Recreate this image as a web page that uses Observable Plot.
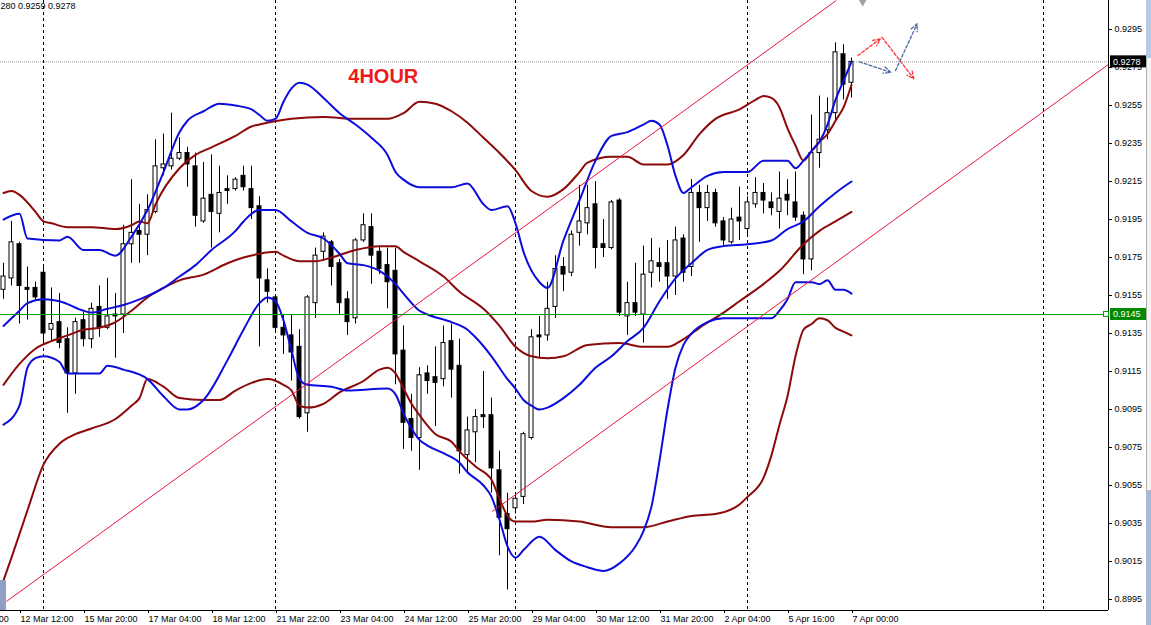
<!DOCTYPE html>
<html><head><meta charset="utf-8">
<script src="https://cdn.jsdelivr.net/npm/d3@7"></script>
<script src="https://cdn.jsdelivr.net/npm/@observablehq/plot@0.6"></script>
<style>
html,body{margin:0;padding:0;background:#fff;overflow:hidden;}
#chart{position:relative;width:1151px;height:625px;}
</style></head><body><div id="chart"></div>
<script>
// ---- candle data (4H bars, index 0..106) ----
const opens  = [.9158,.9164,.9182,.9159,.9159,.9167,.9137,.9141,.9132,.9114,.9142,.9132,.9149,.9138,.9145,.9145,.9182,.9189,.9187,.9199,.9222,.9223,.9227,.9230,.9223,.9194,.9208,.9198,.9211,.9211,.9218,.9211,.9202,.9163,.9154,.9138,.9134,.9128,.9093,.9151,.9178,.9183,.9172,.9153,.9143,.9184,.9191,.9178,.9171,.9168,.9126,.9090,.9080,.9114,.9112,.9111,.9131,.9118,.9071,.9083,.9092,.9092,.9063,.9040,.9043,.9049,.9080,.9134,.9134,.9149,.9170,.9167,.9188,.9193,.9203,.9182,.9180,.9205,.9144,.9151,.9145,.9167,.9172,.9172,.9165,.9185,.9170,.9209,.9201,.9209,.9194,.9183,.9196,.9190,.9203,.9209,.9204,.9199,.9208,.9204,.9197,.9174,.9230,.9242,.9251,.9282,.9267];
const highs  = [.9172,.9194,.9183,.9170,.9162,.9170,.9159,.9156,.9138,.9143,.9146,.9151,.9160,.9164,.9156,.9192,.9216,.9203,.9208,.9237,.9240,.9251,.9238,.9233,.9230,.9225,.9229,.9223,.9218,.9217,.9223,.9223,.9207,.9169,.9155,.9145,.9145,.9137,.9155,.9180,.9188,.9184,.9174,.9157,.9185,.9198,.9198,.9181,.9180,.9180,.9139,.9103,.9117,.9118,.9128,.9139,.9140,.9132,.9091,.9095,.9115,.9101,.9073,.9051,.9051,.9083,.9137,.9144,.9162,.9176,.9175,.9189,.9213,.9213,.9215,.9195,.9205,.9206,.9162,.9172,.9181,.9185,.9180,.9184,.9191,.9187,.9216,.9213,.9213,.9211,.9196,.9201,.9212,.9207,.9217,.9214,.9209,.9220,.9216,.9220,.9199,.9250,.9260,.9259,.9288,.9287,.9280];
const lows   = [.9153,.9160,.9140,.9142,.9152,.9130,.9131,.9127,.9093,.9103,.9128,.9127,.9133,.9137,.9122,.9135,.9172,.9172,.9176,.9198,.9218,.9221,.9226,.9212,.9191,.9193,.9180,.9188,.9203,.9210,.9210,.9195,.9128,.9151,.9136,.9124,.9110,.9090,.9083,.9143,.9173,.9160,.9145,.9134,.9140,.9183,.9161,.9166,.9148,.9108,.9074,.9073,.9063,.9103,.9086,.9107,.9101,.9061,.9061,.9067,.9085,.9051,.9018,.9000,.9040,.9045,.9079,.9122,.9131,.9143,.9157,.9165,.9181,.9187,.9169,.9175,.9179,.9144,.9134,.9144,.9130,.9159,.9162,.9153,.9155,.9162,.9165,.9183,.9194,.9191,.9181,.9182,.9184,.9187,.9201,.9198,.9197,.9190,.9197,.9194,.9166,.9168,.9222,.9237,.9247,.9258,.9259];
const closes = [.9165,.9183,.9160,.9158,.9154,.9135,.9140,.9130,.9114,.9141,.9132,.9148,.9138,.9144,.9144,.9182,.9188,.9187,.9200,.9223,.9224,.9227,.9230,.9224,.9197,.9206,.9199,.9209,.9210,.9216,.9212,.9201,.9164,.9157,.9138,.9134,.9125,.9091,.9154,.9176,.9186,.9170,.9151,.9141,.9184,.9192,.9176,.9169,.9162,.9124,.9088,.9080,.9113,.9110,.9109,.9130,.9116,.9073,.9084,.9091,.9091,.9064,.9038,.9032,.9048,.9082,.9133,.9133,.9148,.9169,.9166,.9187,.9194,.9201,.9180,.9180,.9204,.9146,.9151,.9146,.9166,.9173,.9170,.9165,.9184,.9167,.9209,.9201,.9209,.9193,.9184,.9195,.9194,.9204,.9209,.9205,.9201,.9206,.9205,.9196,.9174,.9230,.9237,.9251,.9283,.9266,.9278];

// ---- indicator lines: [bar index, price] ----
const blueUpper = [[0,.9195],[2,.9198],[3,.9185],[7,.9184],[8,.9186],[10,.9179],[12,.9179],[14,.9176],[16,.9186],[18,.9200],[20,.9220],[22,.9241],[23,.9247],[25,.9252],[27,.9256],[29,.9255],[31,.9253],[32,.9250],[33,.9247],[34,.9248],[35,.9257],[36,.9264],[37,.9267],[38,.9266],[40,.9259],[42,.9251],[44,.9245],[46,.9238],[48,.9229],[49,.9220],[50,.9216],[52,.9212],[56,.9212],[58,.9214],[60,.9203],[61,.9200],[63,.9202],[64,.9193],[65,.9178],[67,.9162],[68,.9159],[70,.9184],[72,.9205],[74,.9226],[76,.9239],[78,.9241],[80,.9245],[81,.9247],[82,.9245],[83,.9234],[84,.9218],[85,.9209],[86,.9212],[88,.9218],[90,.9220],[93,.9220],[95,.9226],[98,.9226],[99,.9222],[100,.9226],[101,.9231],[102,.9236],[103,.9245],[104,.9258],[105,.9268],[106,.9278]];
const blueMid = [[0,.9139],[2,.9147],[3,.9151],[5,.9153],[7,.9152],[10,.9147],[11,.9146],[13,.9148],[15,.9150],[17,.9153],[20,.9159],[22,.9165],[24,.9171],[26,.9179],[29,.9189],[30,.9194],[32,.9200],[34,.9200],[36,.9194],[38,.9188],[40,.9185],[42,.9177],[43,.9172],[45,.9171],[47,.9168],[48,.9165],[49,.9161],[50,.9156],[52,.9147],[53,.9145],[56,.9141],[58,.9137],[59,.9133],[61,.9123],[63,.9111],[64,.9106],[65,.9100],[66,.9097],[67,.9095],[68,.9096],[70,.9101],[72,.9108],[74,.9117],[76,.9123],[78,.9131],[80,.9138],[82,.9152],[84,.9164],[86,.9172],[88,.9179],[90,.9181],[93,.9182],[96,.9184],[98,.9190],[100,.9194],[102,.9202],[104,.9209],[106,.9215]];
const blueLower = [[0,.9087],[2,.9097],[3,.9117],[4,.9122],[5,.9123],[7,.9120],[8,.9114],[12,.9114],[13,.9118],[15,.9116],[18,.9111],[20,.9102],[22,.9095],[23,.9095],[25,.9100],[28,.9121],[30,.9137],[32,.9151],[33,.9154],[34,.9152],[35,.9142],[36,.9126],[37,.9111],[38,.9108],[41,.9107],[43,.9105],[48,.9106],[49,.9103],[50,.9093],[51,.9085],[52,.9079],[53,.9076],[55,.9072],[57,.9067],[58,.9062],[60,.9055],[61,.9049],[62,.9037],[63,.9023],[64,.9017],[65,.9021],[67,.9028],[69,.9021],[71,.9015],[73,.9012],[75,.9010],[77,.9014],[79,.9023],[80,.9031],[81,.9044],[82,.9068],[83,.9095],[84,.9117],[85,.9129],[86,.9135],[88,.9141],[90,.9143],[96,.9143],[97,.9147],[98,.9153],[99,.9162],[101,.9162],[102,.9161],[103,.9163],[104,.9158],[105,.9158],[106,.9156]];
const maroonUpper = [[0,.9209],[1,.9210],[2,.9208],[4,.9199],[5,.9194],[6,.9193],[8,.9191],[11,.9191],[14,.9190],[16,.9192],[17,.9194],[18,.9193],[19,.9203],[22,.9222],[24,.9229],[26,.9233],[29,.9239],[31,.9244],[32,.9245],[36,.9248],[40,.9249],[44,.9248],[48,.9248],[50,.9251],[52,.9257],[54,.9256],[56,.9252],[58,.9246],[60,.9238],[62,.9230],[64,.9221],[66,.9210],[68,.9207],[70,.9211],[72,.9220],[73,.9225],[76,.9228],[78,.9228],[80,.9224],[83,.9224],[85,.9229],[87,.9240],[89,.9248],[92,.9253],[94,.9258],[95,.9260],[96,.9259],[97,.9254],[98,.9243],[99,.9234],[100,.9226],[101,.9231],[102,.9236],[103,.9240],[104,.9247],[105,.9254],[106,.9266]];
const maroonMid = [[0,.9108],[2,.9119],[4,.9127],[6,.9131],[8,.9134],[10,.9137],[12,.9138],[14,.9141],[16,.9147],[18,.9154],[20,.9159],[22,.9163],[25,.9166],[28,.9172],[30,.9175],[32,.9177],[34,.9178],[35,.9176],[37,.9173],[39,.9173],[41,.9175],[44,.9179],[47,.9181],[49,.9181],[50,.9178],[52,.9173],[55,.9165],[57,.9157],[60,.9148],[62,.9139],[64,.9128],[66,.9123],[68,.9122],[70,.9123],[73,.9129],[77,.9130],[80,.9128],[83,.9128],[85,.9132],[87,.9138],[90,.9146],[92,.9152],[95,.9161],[97,.9168],[100,.9182],[102,.9189],[104,.9194],[106,.9199]];
const maroonLower = [[0,.9005],[1,.9017],[3,.9042],[5,.9066],[7,.9077],[9,.9082],[11,.9085],[14,.9090],[16,.9097],[17,.9101],[18,.9111],[20,.9107],[22,.9101],[25,.9100],[27,.9100],[29,.9105],[31,.9109],[33,.9111],[35,.9108],[36,.9105],[37,.9097],[38,.9096],[40,.9098],[42,.9104],[45,.9110],[47,.9116],[48,.9117],[49,.9114],[50,.9106],[51,.9098],[52,.9092],[54,.9082],[56,.9078],[57,.9073],[59,.9065],[61,.9058],[62,.9048],[63,.9039],[64,.9036],[66,.9036],[68,.9037],[72,.9036],[76,.9033],[80,.9033],[83,.9036],[86,.9039],[89,.9040],[92,.9045],[93,.9049],[95,.9059],[96,.9071],[97,.9087],[98,.9102],[99,.9123],[100,.9137],[101,.9140],[102,.9143],[103,.9142],[104,.9138],[105,.9136],[106,.9134]];

// ---- channel lines, levels, separators, annotations ----
const channelLines = [
  {x1: 0.375, y1: .8994, x2: 104.1, y2: .93103},
  {x1: 61.1, y1: .90413, x2: 138.1, y2: .92766}
];
const greenLevel = [0.9145];
const bidLevel = [0.9278];
const separatorBars = [5, 34, 64, 93, 130];
const redArrows = [
  {x1: 106.8, y1: .92813, x2: 109.6, y2: .92901},
  {x1: 109.8, y1: .92910, x2: 113.8, y2: .92691}
];
const blueArrows = [
  {x1: 107.0, y1: .92780, x2: 110.9, y2: .92725},
  {x1: 111.5, y1: .92734, x2: 114.2, y2: .92980}
];
const titleLabel = [{x: 43.1, y: .92703, text: "4HOUR"}];
const headerText = ["280 0.9259 0.9278"];
const shiftMarker = [107.4];
const anchorBox = [{x2: 0.375, y1: .9005}];

const yTicks = [0.9295,0.9275,0.9255,0.9235,0.9215,0.9195,0.9175,0.9155,0.9135,0.9115,0.9095,0.9075,0.9055,0.9035,0.9015,0.8995];
const xTickBars = [-6,2,10,18,26,34,42,50,58,66,74,82,90,98,106];
const xTickLabels = ["11 Mar 04:00","12 Mar 12:00","15 Mar 20:00","17 Mar 04:00","18 Mar 12:00","21 Mar 22:00","23 Mar 04:00","24 Mar 12:00","25 Mar 20:00","29 Mar 04:00","30 Mar 12:00","31 Mar 20:00","2 Apr 04:00","5 Apr 16:00","7 Apr 00:00"];

const X0 = -0.375, X1 = 138.125, Y0 = 0.89892, Y1 = 0.93103;

const candles = opens.map((o, i) => ({i, open: o, high: highs[i], low: lows[i], close: closes[i]}));
const labelMap = new Map(xTickBars.map((b, k) => [b, xTickLabels[k]]));
const lineSpec = (data, color) => Plot.line(data, {x: d => d[0], y: d => d[1], stroke: color, strokeWidth: 2, curve: "monotone-x", clip: true});

const BLUE = "#0c0cdc", MAROON = "#8c0a0a";
const FONT = "'Liberation Sans', Arial, sans-serif";

const chart = Plot.plot({
  width: 1151, height: 625,
  marginLeft: 0, marginRight: 43, marginTop: 0, marginBottom: 15,
  style: {fontFamily: FONT, fontSize: "9px", background: "#fff", color: "#000"},
  x: {domain: [X0, X1]},
  y: {domain: [Y0, Y1]},
  marks: [
    Plot.ruleX(separatorBars, {x: d => d, stroke: "#000", strokeDasharray: "3,3", clip: true}),
    Plot.ruleY(bidLevel, {y: d => d, stroke: "#9a9a9a", strokeDasharray: "1,1"}),
    Plot.ruleX(candles, {x: "i", y1: "low", y2: "high", stroke: "#000", strokeWidth: 1, clip: true}),
    Plot.rect(candles, {x1: d => d.i - 0.25, x2: d => d.i + 0.25, y1: "open", y2: "close",
      fill: d => d.close >= d.open ? "#fff" : "#000", stroke: "#000", strokeWidth: 1, clip: true}),
    lineSpec(maroonUpper, MAROON), lineSpec(maroonMid, MAROON), lineSpec(maroonLower, MAROON),
    lineSpec(blueUpper, BLUE), lineSpec(blueMid, BLUE), lineSpec(blueLower, BLUE),
    Plot.link(channelLines, {x1: "x1", y1: "y1", x2: "x2", y2: "y2", stroke: "#e8143c", strokeWidth: 1, clip: true}),
    Plot.ruleY(greenLevel, {y: d => d, stroke: "#00a000", strokeWidth: 1}),
    Plot.arrow(redArrows, {x1: "x1", y1: "y1", x2: "x2", y2: "y2", stroke: "#ff3030", strokeWidth: 1.3, strokeDasharray: "3,2", headLength: 9, headAngle: 50}),
    Plot.arrow(blueArrows, {x1: "x1", y1: "y1", x2: "x2", y2: "y2", stroke: "#4a6aa0", strokeWidth: 1.3, strokeDasharray: "3,2", headLength: 9, headAngle: 50}),
    Plot.text(titleLabel, {x: "x", y: "y", text: "text", fill: "#ee1a1a", fontSize: 20, fontWeight: "bold", textAnchor: "start", fontFamily: FONT}),
    Plot.text(headerText, {text: d => d, frameAnchor: "top-left", textAnchor: "start", lineAnchor: "top", dx: 0, dy: 2, fill: "#000"}),
    Plot.dot(shiftMarker, {x: d => d, frameAnchor: "top", symbol: "triangle", rotate: 180, r: 3.2, fill: "#a0a0a0", dy: 1}),
    Plot.rect(anchorBox, {x1: X0, x2: "x2", y1: "y1", y2: Y0, fill: "#8fa0c4"}),
    Plot.ruleX([X1], {x: d => d, stroke: "#000", strokeWidth: 1}),
    Plot.ruleY([Y0], {y: d => d, stroke: "#000", strokeWidth: 1}),
    Plot.axisY({anchor: "right", ticks: yTicks, tickFormat: d3.format(".4f"), tickSize: 3, tickPadding: 3, fontSize: 9, textAnchor: "start"}),
    Plot.axisX({anchor: "bottom", ticks: xTickBars, tickFormat: d => labelMap.get(d), tickSize: 3, tickPadding: 2, fontSize: 9, textAnchor: "start", dx: 1})
  ]
});

document.getElementById("chart").appendChild(chart);

// price tags in right margin, positioned with the plot's y scale
const ys = chart.scale("y");
const svg = d3.select(chart);
function tag(v, bg) {
  const yy = ys.apply(v);
  svg.append("rect").attr("x", 1110).attr("y", yy - 6).attr("width", 36).attr("height", 12).attr("fill", bg);
  svg.append("text").attr("x", 1113).attr("y", yy).attr("dy", "0.35em").attr("fill", "#fff")
    .attr("text-anchor", "start").attr("font-size", 9).attr("font-family", FONT).text(d3.format(".4f")(v));
}
tag(bidLevel[0], "#000");
tag(greenLevel[0], "#008a00");
const gy = ys.apply(greenLevel[0]);
svg.append("rect").attr("x", 1103.5).attr("y", gy - 2.5).attr("width", 5).attr("height", 5).attr("fill", "#fff").attr("stroke", "#00a000");
// window edge strip
svg.append("rect").attr("x", 1146).attr("y", 0).attr("width", 5).attr("height", 58).attr("fill", "#b9c9e2");
svg.append("rect").attr("x", 1146).attr("y", 58).attr("width", 5).attr("height", 432).attr("fill", "#f4f4f4");
svg.append("line").attr("x1", 1146.5).attr("x2", 1146.5).attr("y1", 58).attr("y2", 490).attr("stroke", "#b0b0b0");
svg.append("rect").attr("x", 1146).attr("y", 490).attr("width", 5).attr("height", 135).attr("fill", "#a9bad6");
</script></body></html>
